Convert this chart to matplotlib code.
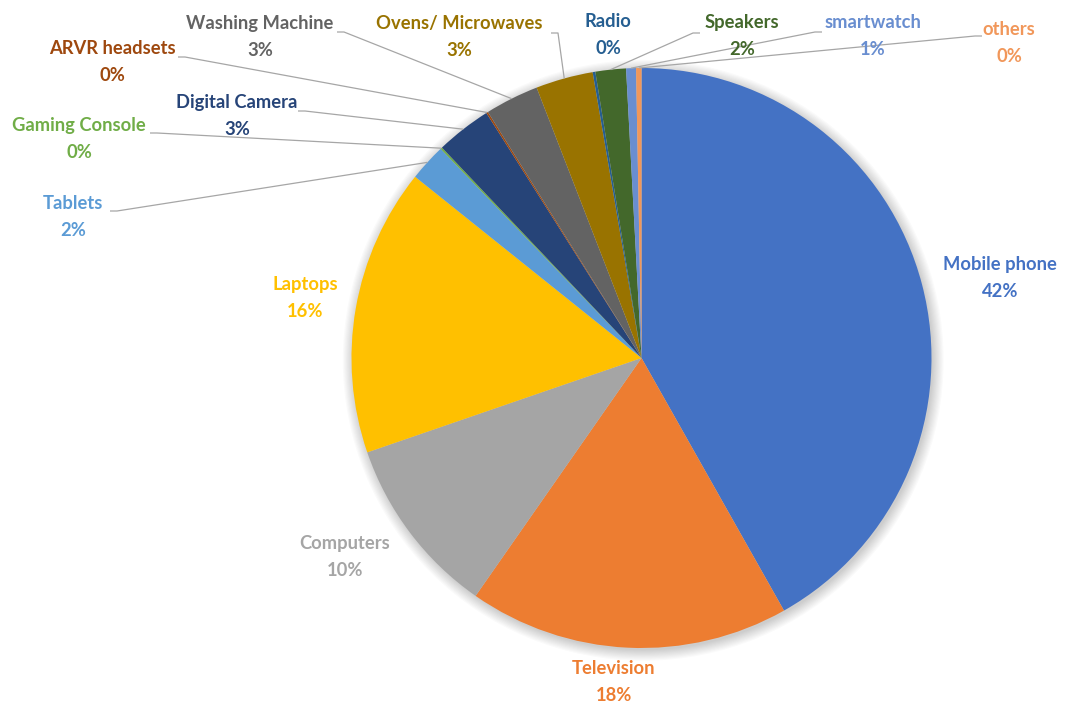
import math
import matplotlib
matplotlib.use("Agg")
import matplotlib.pyplot as plt
from matplotlib.patches import Circle

# Share of units by device category
categories = ["Mobile phone", "Television", "Computers", "Laptops", "Tablets",
              "Gaming Console", "Digital Camera", "ARVR headsets", "Washing Machine",
              "Ovens/ Microwaves", "Radio", "Speakers", "smartwatch", "others"]
shares = [41.9, 17.9, 10.05, 16.05, 2.08, 0.1, 3.1, 0.1, 3.0, 3.2, 0.15, 1.7, 0.55, 0.3]
colors = ["#4472C4", "#ED7D31", "#A5A5A5", "#FFC000", "#5B9BD5", "#70AD47", "#264478",
          "#9E480E", "#636363", "#997300", "#255E91", "#43682B", "#698ED0", "#F1975A"]

# Layout (pixels on the 1065x704 canvas)
W, H = 1065, 704
CX, CY, R = 641.5, 358.0, 290.0
label_centers = [(1000, 278), (614, 682), (345, 557), (305, 298), (73, 217),
                 (79, 139), (237, 116), (112, 62), (260, 37), (459, 37),
                 (608, 35), (742, 36), (873, 36), (1009, 43)]
# leader line start points (None = no leader)
leader_starts = [None, None, None, None, (110, 211), (150, 133), (298, 111),
                 (178, 57), (337, 32), (551, 33), None, (700, 33), (822, 32), (982, 36)]
stub_dir = [0, 0, 0, 0, 1, 1, 1, 1, 1, 1, 0, -1, -1, -1]


def to_data(px, py):
    return (px - CX) / R, (CY - py) / R


fig = plt.figure(figsize=(W / 100, H / 100), dpi=100)
ax = fig.add_axes([0, 0, 1, 1])

# soft drop shadow behind the pie
for i in range(10):
    ax.add_patch(Circle((0.006, -0.008), 1.0 + 0.004 * i, facecolor="#000000",
                        alpha=0.018, edgecolor="none", zorder=0))

wedges, _ = ax.pie(shares, colors=colors, startangle=90, counterclock=False,
                   radius=1.0, wedgeprops=dict(linewidth=0, zorder=1))

total = sum(shares)
for i, w in enumerate(wedges):
    pct = round(shares[i] / total * 100)
    lx, ly = to_data(*label_centers[i])
    ax.text(lx, ly, f"{categories[i]}\n{pct}%", ha="center", va="center",
            color=colors[i], fontsize=13.2, fontweight="bold", family="Lato",
            linespacing=1.75, zorder=5)
    if leader_starts[i] is not None:
        mid = math.radians((w.theta1 + w.theta2) / 2)
        ex, ey = math.cos(mid), math.sin(mid)
        sx, sy = to_data(*leader_starts[i])
        kx = sx + stub_dir[i] * 7 / R
        ax.plot([sx, kx, ex], [sy, sy, ey], color="#A6A6A6", lw=0.9,
                solid_capstyle="butt", zorder=3)

ax.set_xlim(-CX / R, (W - CX) / R)
ax.set_ylim(-(H - CY) / R, CY / R)
ax.set_aspect("equal", adjustable="box")
ax.axis("off")
fig.savefig("out.png", dpi=100, facecolor="white")
